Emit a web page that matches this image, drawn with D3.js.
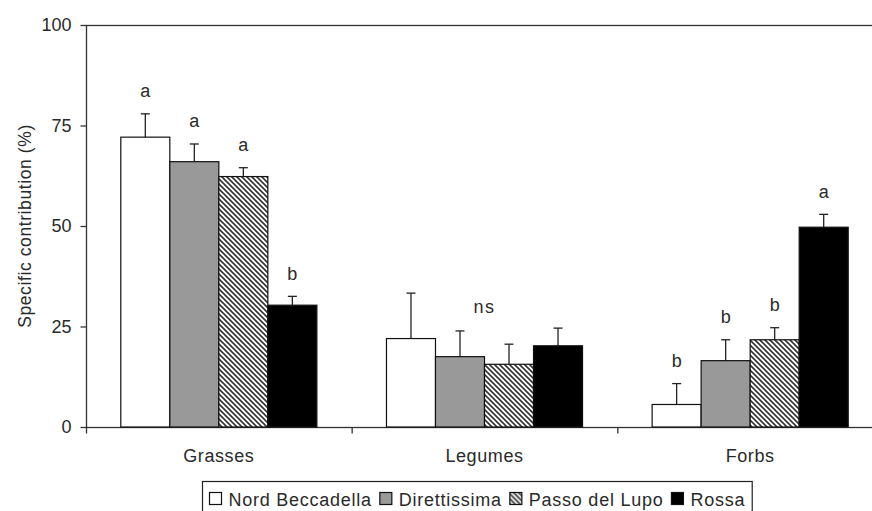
<!DOCTYPE html>
<html>
<head>
<meta charset="utf-8">
<script src="https://cdn.jsdelivr.net/npm/d3@7"></script>
<style>
  body { margin: 0; background: #fff; }
  text { font-family: "Liberation Sans", Arial, sans-serif; fill: #2a2a2a; }
</style>
</head>
<body>
<script>
const width = 872;
const height = 511;

// Data.
const categories = ["Grasses", "Legumes", "Forbs"];
const series = ["Nord Beccadella", "Direttissima", "Passo del Lupo", "Rossa"];
const nordMeans = [72.1, 22.0, 5.6];
const direttMeans = [66.0, 17.5, 16.5];
const passoMeans = [62.3, 15.6, 21.7];
const rossaMeans = [30.3, 20.2, 49.7];
const nordErr = [5.8, 11.3, 5.2];
const direttErr = [4.4, 6.4, 5.2];
const passoErr = [2.2, 5.0, 3.0];
const rossaErr = [2.2, 4.4, 3.2];
const grassesLetters = ["a", "a", "a", "b"];
const forbsLetters = ["b", "b", "b", "a"];
const groupNotes = [{ category: "Legumes", text: "ns", y: 28.4 }];
const yTicks = [0, 25, 50, 75, 100];

const means = [nordMeans, direttMeans, passoMeans, rossaMeans];
const errs = [nordErr, direttErr, passoErr, rossaErr];
const letters = { Grasses: grassesLetters, Forbs: forbsLetters };
const fills = ["#fff", "#999", "url(#hatch)", "#000"];

// Build a flat table for the bars.
const rows = [];
categories.forEach((c, ci) => {
  series.forEach((s, si) => {
    rows.push({
      category: c, series: s, si,
      value: means[si][ci], err: errs[si][ci],
      letter: letters[c] ? letters[c][si] : null
    });
  });
});

const margin = { left: 86, top: 25, right: 883, bottom: 427 };

const svg = d3.select("body").append("svg")
  .attr("width", width)
  .attr("height", height);

// Diagonal hatch like the Excel pattern.
const pat = svg.append("defs").append("pattern")
  .attr("id", "hatch")
  .attr("patternUnits", "userSpaceOnUse")
  .attr("width", 5)
  .attr("height", 5);
pat.append("rect").attr("width", 5).attr("height", 5).attr("fill", "#fff");
pat.append("path")
  .attr("d", "M0,0L5,5M-1,4L1,6M4,-1L6,1")
  .attr("stroke", "#333")
  .attr("stroke-width", 1.6);

const x = d3.scaleBand()
  .domain(categories)
  .range([margin.left, margin.right]);

const xInner = d3.scaleBand()
  .domain(series)
  .range([0, x.bandwidth()])
  .paddingOuter(0.71);

const y = d3.scaleLinear()
  .domain([0, 100])
  .range([margin.bottom, margin.top]);

// Plot frame (right side falls outside the window, as in the original).
svg.append("rect")
  .attr("x", margin.left + 0.5)
  .attr("y", y(100) + 0.5)
  .attr("width", margin.right - margin.left)
  .attr("height", y(0) - y(100))
  .attr("fill", "none")
  .attr("stroke", "#333")
  .attr("stroke-width", 1.3);

// Error bars (upper only).
const eb = svg.append("g");
rows.forEach(d => {
  const cx = x(d.category) + xInner(d.series) + xInner.bandwidth() / 2;
  eb.append("line")
    .attr("x1", cx).attr("x2", cx)
    .attr("y1", y(d.value)).attr("y2", y(d.value + d.err))
    .attr("stroke", "#222").attr("stroke-width", 1.3);
  eb.append("line")
    .attr("x1", cx - 4.5).attr("x2", cx + 4.5)
    .attr("y1", y(d.value + d.err)).attr("y2", y(d.value + d.err))
    .attr("stroke", "#222").attr("stroke-width", 1.3);
});

// Bars.
svg.append("g").selectAll("rect")
  .data(rows)
  .join("rect")
  .attr("x", d => x(d.category) + xInner(d.series))
  .attr("y", d => y(d.value))
  .attr("width", xInner.bandwidth())
  .attr("height", d => y(0) - y(d.value))
  .attr("fill", d => fills[d.si])
  .attr("stroke", "#111")
  .attr("stroke-width", 1.2);

// Significance letters.
svg.append("g").selectAll("text")
  .data(rows.filter(d => d.letter))
  .join("text")
  .attr("x", d => x(d.category) + xInner(d.series) + xInner.bandwidth() / 2)
  .attr("y", d => y(d.value + d.err) - 16.5)
  .attr("text-anchor", "middle")
  .style("font-size", "18px")
  .text(d => d.letter);

svg.append("g").selectAll("text")
  .data(groupNotes)
  .join("text")
  .attr("x", d => x(d.category) + x.bandwidth() / 2)
  .attr("y", d => y(d.y))
  .attr("text-anchor", "middle")
  .style("font-size", "18px")
  .style("letter-spacing", "1.5px")
  .text(d => d.text);

// Y axis.
const yAxis = svg.append("g")
  .attr("transform", `translate(${margin.left + 0.5},0)`)
  .call(d3.axisLeft(y).tickValues(yTicks).tickSize(6).tickPadding(9));
yAxis.select(".domain").remove();
yAxis.selectAll("line").attr("stroke", "#333").attr("stroke-width", 1.3);
yAxis.selectAll("text")
  .style("font-size", "18px")
  .style("font-family", "'Liberation Sans', Arial, sans-serif")
  .attr("fill", "#2a2a2a");

// X axis: ticks on category boundaries.
const xAxisG = svg.append("g")
  .attr("transform", `translate(0,${margin.bottom + 0.5})`);
xAxisG.selectAll("line")
  .data(categories.map(c => x(c)).concat([margin.right]))
  .join("line")
  .attr("x1", d => d + 0.5).attr("x2", d => d + 0.5)
  .attr("y1", 0).attr("y2", 6)
  .attr("stroke", "#333").attr("stroke-width", 1.3);
xAxisG.selectAll("text")
  .data(categories)
  .join("text")
  .attr("x", d => x(d) + x.bandwidth() / 2)
  .attr("y", 34.5)
  .attr("text-anchor", "middle")
  .style("font-size", "18px")
  .style("letter-spacing", "0.6px")
  .text(d => d);

// Y label.
svg.append("text")
  .attr("transform", `translate(31,${(y(0) + y(100)) / 2}) rotate(-90)`)
  .attr("text-anchor", "middle")
  .style("font-size", "17.5px")
  .style("letter-spacing", "0.6px")
  .text("Specific contribution (%)");

// Legend.
const legend = svg.append("g");
const legendBox = legend.append("rect")
  .attr("fill", "#fff")
  .attr("stroke", "#222")
  .attr("stroke-width", 1.2);
let lx = 7;
const items = legend.selectAll("g")
  .data(series)
  .join("g");
items.each(function (s, i) {
  const gItem = d3.select(this);
  gItem.append("rect")
    .attr("x", lx).attr("y", 11)
    .attr("width", 12).attr("height", 12)
    .attr("fill", fills[i])
    .attr("stroke", "#111").attr("stroke-width", 1.2);
  const t = gItem.append("text")
    .attr("x", lx + 19)
    .attr("y", 24)
    .style("font-size", "18px")
    .style("letter-spacing", "0.75px")
    .text(s);
  lx += 19 + t.node().getComputedTextLength() + 8;
});
const legendW = lx - 1;
legendBox.attr("x", 0).attr("y", 0).attr("width", legendW).attr("height", 34);
legend.attr("transform", `translate(${Math.round(476.5 - legendW / 2) + 0.5},481.5)`);
</script>
</body>
</html>
